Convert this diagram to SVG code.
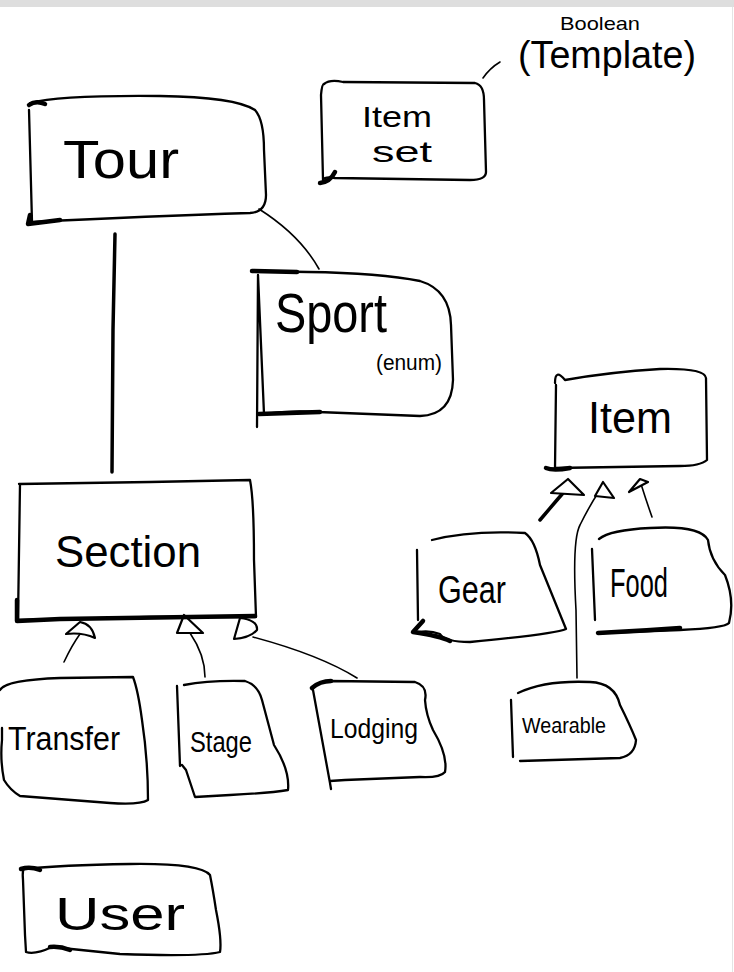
<svg xmlns="http://www.w3.org/2000/svg" width="734" height="972" viewBox="0 0 734 972">
<style>
.box{fill:none;stroke:#000;stroke-width:2.3;stroke-linecap:round;stroke-linejoin:round}
.acc{fill:none;stroke:#000;stroke-width:4.5;stroke-linecap:round;stroke-linejoin:round}
.ln{fill:none;stroke:#000;stroke-width:1.6;stroke-linecap:round;stroke-linejoin:round}
.thick{fill:none;stroke:#000;stroke-width:3.5;stroke-linecap:round}
.tri{fill:#fff;stroke:#000;stroke-width:2.2;stroke-linejoin:round}
text{font-family:"Liberation Sans","DejaVu Sans",sans-serif;fill:#000}
</style>
<rect x="0" y="0" width="734" height="972" fill="#fff"/>
<rect x="0" y="0" width="734" height="7" fill="#dedede"/>
<line x1="732.5" y1="7" x2="732.5" y2="972" stroke="#e4e4e4" stroke-width="1"/>

<g id="connectors">
  <path class="thick" d="M115,234 L113,330 L112,472"/>
  <path class="ln" d="M259,209 Q300,235 319,269"/>
  <path class="ln" d="M483,78 Q490,68 500,62"/>
  <path class="ln" d="M64,662 Q72,645 80,634"/>
  <path class="tri" d="M66,634 L80,622 Q92,624 95,638 Q82,632 66,634 Z"/>
  <path class="ln" d="M205,677 Q205,655 190,633"/>
  <path class="tri" d="M177,633 L184,615 L203,633 Z"/>
  <path class="ln" d="M357,678 Q320,655 253,637"/>
  <path class="tri" d="M234,639 L240,618 Q258,620 257,630 Q250,638 234,639 Z"/>
  <path class="thick" d="M540,520 L557,500 L570,485"/>
  <path class="tri" d="M551,493 L568,479 L584,495 Z"/>
  <path class="ln" d="M577,678 L576,610 Q572,540 580,525 Q590,505 598,493"/>
  <path class="tri" d="M595,496 L603,482 L614,498 Z"/>
  <path class="ln" d="M652,517 Q646,500 641,484"/>
  <path class="tri" d="M629,492 L640,479 L648,482 Z"/>
</g>

<g id="annotation">
  <text x="560" y="30" font-size="19" textLength="80" lengthAdjust="spacingAndGlyphs">Boolean</text>
  <text x="518" y="68" font-size="38" textLength="178" lengthAdjust="spacingAndGlyphs">(Template)</text>
</g>

<g id="tour">
  <path class="box" d="M30,103 Q60,95 160,96 Q235,97 255,110 Q264,120 264,150 L266,195 Q266,212 250,213 Q150,216 32,222 L29,110"/>
  <path class="acc" d="M29,105 Q36,100 45,104 M30,215 L28,224 L60,220"/>
  <text x="63" y="178" font-size="54" textLength="116" lengthAdjust="spacingAndGlyphs">Tour</text>
</g>

<g id="itemset">
  <path class="box" d="M324,84 Q330,79 343,82 L475,83 Q484,85 484,100 L486,172 Q486,180 470,180 L335,178 Q325,176 323,180 L321,95 Q322,84 324,84"/>
  <path class="acc" d="M335,172 Q330,182 320,183"/>
  <text x="362" y="127" font-size="30" textLength="70" lengthAdjust="spacingAndGlyphs">Item</text>
  <text x="372" y="162" font-size="30" textLength="60" lengthAdjust="spacingAndGlyphs">set</text>
</g>

<g id="sport">
  <path class="box" d="M256,271 L308,272 Q380,273 420,281 Q450,290 451,325 L453,380 Q452,415 420,416 L318,412 Q290,410 264,414 L258,275 L257,427"/>
  <path class="acc" d="M252,271 L297,272 M259,414 L320,412"/>
  <text x="275" y="332" font-size="56" textLength="112" lengthAdjust="spacingAndGlyphs">Sport</text>
  <text x="376" y="370" font-size="22" textLength="66" lengthAdjust="spacingAndGlyphs">(enum)</text>
</g>

<g id="item">
  <path class="box" d="M555,383 Q555,368 565,380 Q610,372 660,369 Q705,368 706,378 L707,460 Q700,466 680,466 L555,468 L556,385"/>
  <path class="acc" d="M546,468 Q553,471 570,468"/>
  <text x="588" y="433" font-size="44" textLength="84" lengthAdjust="spacingAndGlyphs">Item</text>
</g>

<g id="section">
  <path class="box" d="M19,484 L150,482 L250,480 Q254,500 254,560 L256,617 L150,617 L18,620 L20,484"/>
  <path class="acc" d="M17,600 L17,621 L60,619 L255,616"/>
  <text x="55" y="567" font-size="44" textLength="146" lengthAdjust="spacingAndGlyphs">Section</text>
</g>

<g id="gear">
  <path class="box" d="M432,540 Q470,530 525,533 Q535,540 540,565 L566,629 Q555,634 470,642 Q445,642 440,634 Q430,630 418,632 M417,550 L418,620"/>
  <path class="acc" d="M423,621 L413,632 Q440,636 450,641"/>
  <text x="438" y="603" font-size="38" textLength="68" lengthAdjust="spacingAndGlyphs">Gear</text>
</g>

<g id="food">
  <path class="box" d="M599,539 Q610,530 650,528 Q700,525 708,540 Q710,560 725,575 Q735,600 729,623 Q725,628 680,630 L600,633 M592,549 L595,620"/>
  <path class="acc" d="M598,633 Q640,631 680,628"/>
  <text x="610" y="597" font-size="40" textLength="58" lengthAdjust="spacingAndGlyphs">Food</text>
</g>

<g id="wearable">
  <path class="box" d="M518,693 Q545,680 590,682 Q615,683 620,705 Q630,725 636,740 Q635,755 620,758 L520,761 M511,700 L513,757"/>
  <text x="522" y="733" font-size="22" textLength="84" lengthAdjust="spacingAndGlyphs">Wearable</text>
</g>

<g id="transfer">
  <path class="box" d="M0,690 Q5,680 60,678 L133,677 Q138,690 142,720 Q148,760 148,800 Q140,805 110,803 L20,796 Q10,790 4,780 Q0,760 2,740 M2,728 L2,740"/>
  <text x="8" y="750" font-size="34" textLength="112" lengthAdjust="spacingAndGlyphs">Transfer</text>
</g>

<g id="stage">
  <path class="box" d="M184,685 Q210,680 245,681 Q258,685 262,700 L274,745 Q290,770 288,790 Q270,793 230,795 L195,797 L186,770 L182,765 M177,686 L180,766"/>
  <text x="190" y="752" font-size="30" textLength="62" lengthAdjust="spacingAndGlyphs">Stage</text>
</g>

<g id="lodging">
  <path class="box" d="M311,688 Q318,682 330,681 L415,682 Q428,686 425,700 Q426,715 433,730 Q448,755 445,772 Q440,778 420,777 L345,780 L330,781 M313,690 L330,783 L331,789"/>
  <path class="acc" d="M312,688 Q320,681 331,681"/>
  <text x="330" y="738" font-size="27" textLength="88" lengthAdjust="spacingAndGlyphs">Lodging</text>
</g>

<g id="user">
  <path class="box" d="M25,869 Q60,865 130,864 Q200,863 210,875 Q213,890 216,910 Q222,940 220,952 Q200,957 120,954 L52,947 Q35,955 26,952 L25,935 L23,880 Q22,868 25,869"/>
  <path class="acc" d="M21,869 Q30,866 40,870 M50,947 Q60,946 70,950"/>
  <text x="55" y="930" font-size="46" textLength="130" lengthAdjust="spacingAndGlyphs">User</text>
</g>
</svg>
